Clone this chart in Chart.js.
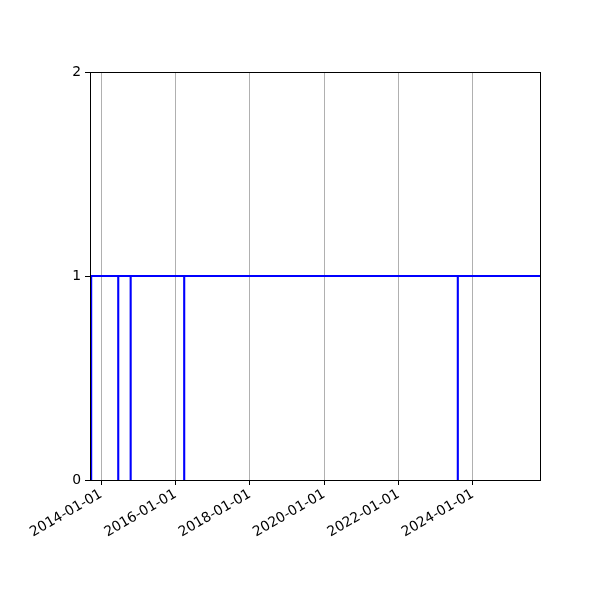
<!DOCTYPE html>
<html>
    <head>
        <title>Step chart</title>
        <script src="https://cdn.jsdelivr.net/npm/chart.js@4"></script>
        <style>
            body { margin: 0; background: #fff; }
        </style>
        <script type="text/javascript">
            document.addEventListener('DOMContentLoaded', init);

            // data: value drops to 0 for a single day
            const dates = ['2013-09-24', '2013-09-25', '2014-06-17', '2014-06-18',
                           '2014-10-17', '2014-10-18', '2016-03-26', '2016-03-27',
                           '2023-08-05', '2023-08-06', '2025-10-21'];
            const values = [0, 1, 0, 1, 0, 1, 0, 1, 0, 1, 1];
            const tickDates = ['2014-01-01', '2016-01-01', '2018-01-01',
                               '2020-01-01', '2022-01-01', '2024-01-01'];
            const xRange = ['2013-09-13', '2025-10-21'];
            const yTicks = [0, 1, 2];

            function toMs(s) {
                return Date.parse(s + 'T00:00:00Z');
            }
            function fmt(ms) {
                return new Date(ms).toISOString().slice(0, 10);
            }

            // draws the black box round the plot area
            const frame = {
                id: 'frame',
                afterDraw(chart) {
                    const a = chart.chartArea;
                    const ctx = chart.ctx;
                    ctx.save();
                    ctx.strokeStyle = '#000';
                    ctx.lineWidth = 1;
                    ctx.strokeRect(Math.round(a.left) + 0.5, Math.round(a.top) + 0.5,
                                   Math.round(a.right - a.left), Math.round(a.bottom - a.top));
                    ctx.restore();
                }
            };

            function init() {
                let rows = [];
                for (let i = 0; i < dates.length; i++) {
                    rows.push({x: toMs(dates[i]), y: values[i]});
                }
                Chart.defaults.font.family = 'DejaVu Sans';
                Chart.defaults.font.size = 13.9;
                Chart.defaults.color = '#000';
                let ctx = document.getElementById('myChart').getContext('2d');
                new Chart(ctx, {
                    type: 'line',
                    data: {
                        datasets: [{
                            data: rows,
                            borderColor: 'blue',
                            borderWidth: 2,
                            pointRadius: 0,
                            stepped: true,
                            fill: false
                        }]
                    },
                    plugins: [frame],
                    options: {
                        responsive: false,
                        animation: false,
                        layout: {padding: {top: 72, right: 60, left: 0, bottom: 0}},
                        plugins: {legend: {display: false}, tooltip: {enabled: false}},
                        scales: {
                            x: {
                                type: 'linear',
                                min: toMs(xRange[0]),
                                max: toMs(xRange[1]),
                                afterBuildTicks(scale) {
                                    scale.ticks = tickDates.map(d => ({value: toMs(d)}));
                                },
                                afterFit(scale) { scale.height = 120; },
                                ticks: {
                                    autoSkip: false,
                                    minRotation: 30,
                                    maxRotation: 30,
                                    padding: 1,
                                    callback: v => fmt(v)
                                },
                                grid: {
                                    color: '#b0b0b0',
                                    lineWidth: 1,
                                    tickColor: '#000',
                                    tickLength: 5
                                },
                                border: {color: '#000'}
                            },
                            y: {
                                min: 0,
                                max: 2,
                                afterBuildTicks(scale) {
                                    scale.ticks = yTicks.map(v => ({value: v}));
                                },
                                afterFit(scale) { scale.width = 90; },
                                ticks: {padding: 4},
                                grid: {
                                    drawOnChartArea: false,
                                    tickColor: '#000',
                                    tickLength: 5
                                },
                                border: {color: '#000'}
                            }
                        }
                    }
                });
            }
        </script>
    </head>
    <body>
        <canvas id="myChart" width="600" height="600"></canvas>
    </body>
</html>
